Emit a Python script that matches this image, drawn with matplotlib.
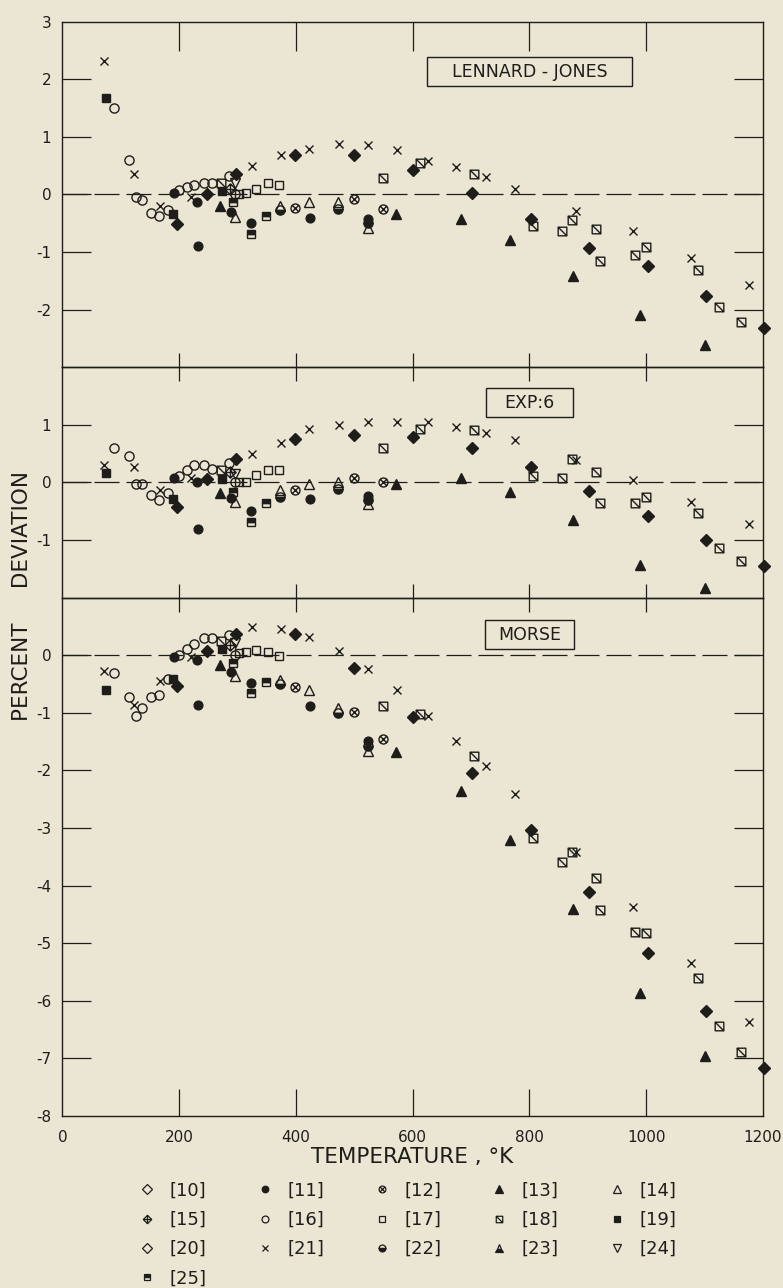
import numpy as np
import matplotlib
matplotlib.use('Agg')
import matplotlib.pyplot as plt
from matplotlib.path import Path
from matplotlib.lines import Line2D
from matplotlib.patches import Rectangle

plt.rcParams['font.family'] = ['DejaVu Sans']
plt.rcParams['axes.unicode_minus'] = False

#####################################################################################################
# temperature (K) and percent deviation for each source, per potential
t11 = [192, 230, 233, 289, 323, 424, 523]
lj11 = [0.02, -0.13, -0.90, -0.31, -0.50, -0.41, -0.42]
exp11 = [0.07, 0.00, -0.81, -0.28, -0.49, -0.29, -0.23]
mor11 = [-0.04, -0.08, -0.86, -0.29, -0.48, -0.89, -1.49]

t12 = [399, 499, 550]
lj12 = [-0.24, -0.08, -0.25]
exp12 = [-0.13, 0.08, 0.00]
mor12 = [-0.56, -0.98, -1.45]

t13 = [270, 572, 682, 766, 875, 989, 1101]
lj13 = [-0.21, -0.34, -0.42, -0.80, -1.41, -2.10, -2.61]
exp13 = [-0.19, -0.03, 0.07, -0.16, -0.65, -1.44, -1.83]
mor13 = [-0.17, -1.68, -2.36, -3.20, -4.40, -5.87, -6.95]

t14 = [296, 372, 423, 472, 523]
lj14 = [-0.40, -0.21, -0.13, -0.13, -0.58]
exp14 = [-0.34, -0.13, -0.03, 0.00, -0.37]
mor14 = [-0.36, -0.43, -0.60, -0.91, -1.66]

t15 = [287]
lj15 = [0.10]
exp15 = [0.18]
mor15 = [0.18]

t16 = [88, 115, 126, 136, 152, 166, 181, 199, 213, 226, 242, 256, 285, 296]
lj16 = [1.50, 0.59, -0.05, -0.10, -0.32, -0.38, -0.27, 0.07, 0.12, 0.16, 0.19, 0.20, 0.32, 0.01]
exp16 = [0.60, 0.46, -0.02, -0.02, -0.22, -0.31, -0.19, 0.11, 0.21, 0.31, 0.30, 0.24, 0.33, 0.01]
mor16 = [-0.31, -0.72, -1.06, -0.91, -0.73, -0.69, -0.42, 0.00, 0.10, 0.19, 0.29, 0.30, 0.35, 0.00]

t17 = [303, 314, 332, 352, 371]
lj17 = [0.00, 0.03, 0.10, 0.20, 0.17]
exp17 = [0.00, 0.01, 0.12, 0.22, 0.22]
mor17 = [0.03, 0.05, 0.09, 0.06, -0.02]

t18 = [271, 550, 613, 705, 806, 856, 872, 914, 920, 980, 1000, 1088, 1125, 1163]
lj18 = [0.20, 0.28, 0.54, 0.36, -0.55, -0.64, -0.45, -0.61, -1.15, -1.06, -0.92, -1.31, -1.95, -2.22]
exp18 = [0.21, 0.59, 0.92, 0.91, 0.11, 0.08, 0.40, 0.18, -0.36, -0.36, -0.25, -0.54, -1.14, -1.36]
mor18 = [0.25, -0.89, -1.02, -1.75, -3.17, -3.59, -3.41, -3.87, -4.43, -4.80, -4.83, -5.61, -6.44, -6.89]

t19 = [75, 190, 273]
lj19 = [1.68, -0.35, 0.05]
exp19 = [0.16, -0.29, 0.05]
mor19 = [-0.61, -0.41, 0.11]

t20 = [197, 248, 298, 399, 500, 600, 702, 802, 902, 1003, 1103, 1202]
lj20 = [-0.52, 0.00, 0.36, 0.68, 0.68, 0.42, 0.02, -0.42, -0.94, -1.25, -1.77, -2.32]
exp20 = [-0.42, 0.05, 0.41, 0.76, 0.83, 0.79, 0.59, 0.27, -0.15, -0.58, -1.00, -1.45]
mor20 = [-0.54, 0.07, 0.36, 0.36, -0.23, -1.07, -2.04, -3.03, -4.11, -5.17, -6.18, -7.16]

t21 = [72, 122, 168, 220, 325, 374, 423, 474, 524, 574, 626, 674, 725, 776, 880, 977, 1077, 1176]
lj21 = [2.32, 0.36, -0.21, -0.05, 0.50, 0.68, 0.78, 0.88, 0.85, 0.77, 0.58, 0.47, 0.30, 0.10,
        -0.29, -0.63, -1.10, -1.58]
exp21 = [0.31, 0.27, -0.13, 0.07, 0.50, 0.69, 0.92, 0.99, 1.05, 1.04, 1.05, 0.96, 0.85, 0.73,
         0.39, 0.04, -0.34, -0.73]
mor21 = [-0.28, -0.87, -0.45, -0.03, 0.49, 0.45, 0.32, 0.08, -0.24, -0.61, -1.06, -1.49, -1.93,
         -2.41, -3.41, -4.37, -5.35, -6.37]

t22 = [372, 472, 523]
lj22 = [-0.28, -0.25, -0.50]
exp22 = [-0.26, -0.12, -0.31]
mor22 = [-0.50, -1.01, -1.57]

t24 = [296]
lj24 = [0.20]
exp24 = [0.15]
mor24 = [0.22]

t25 = [292, 323, 349]
lj25 = [-0.13, -0.68, -0.37]
exp25 = [-0.17, -0.68, -0.36]
mor25 = [-0.13, -0.66, -0.46]

panel_names = ['LENNARD - JONES', 'EXP:6', 'MORSE']
ref_labels = ['[10]', '[11]', '[12]', '[13]', '[14]', '[15]', '[16]', '[17]',
              '[18]', '[19]', '[20]', '[21]', '[22]', '[23]', '[24]', '[25]']
temp_ticks = [0, 200, 400, 600, 800, 1000, 1200]

INK = '#1e1d1a'
PAPER = '#ebe6d4'
W_PX, H_PX = 783, 1288

#####################################################################################################
# odd symbols of the original
circ_x = Path.make_compound_path(
    Path.unit_circle(),
    Path([[-0.72, -0.72], [0.72, 0.72]], [Path.MOVETO, Path.LINETO]),
    Path([[-0.72, 0.72], [0.72, -0.72]], [Path.MOVETO, Path.LINETO]))
diam_plus = Path([[0, 1], [1, 0], [0, -1], [-1, 0], [0, 1],
                  [0, 1], [0, -1], [-1, 0], [1, 0]],
                 [Path.MOVETO, Path.LINETO, Path.LINETO, Path.LINETO, Path.CLOSEPOLY,
                  Path.MOVETO, Path.LINETO, Path.MOVETO, Path.LINETO])
sq_slash = Path([[-1, -1], [1, -1], [1, 1], [-1, 1], [-1, -1],
                 [-1, 1], [1, -1]],
                [Path.MOVETO, Path.LINETO, Path.LINETO, Path.LINETO, Path.CLOSEPOLY,
                 Path.MOVETO, Path.LINETO])

style = {
    '[10]': dict(marker='D', mfc='none', ms=6.2),
    '[11]': dict(marker='o', mfc=INK, ms=6.3),
    '[12]': dict(marker=circ_x, mfc='none', ms=6.5),
    '[13]': dict(marker='^', mfc=INK, ms=6.8),
    '[14]': dict(marker='^', mfc='none', ms=6.8),
    '[15]': dict(marker=diam_plus, mfc='none', ms=8),
    '[16]': dict(marker='o', mfc='none', ms=6.6),
    '[17]': dict(marker='s', mfc='none', ms=6.2),
    '[18]': dict(marker=sq_slash, mfc='none', ms=6.2),
    '[19]': dict(marker='s', mfc=INK, ms=6.2),
    '[20]': dict(marker='D', mfc=INK, ms=6.2),
    '[21]': dict(marker='x', mfc=INK, ms=5.6),
    '[22]': dict(marker='o', mfc=INK, fillstyle='bottom', ms=6.6),
    '[23]': dict(marker='^', mfc=INK, fillstyle='bottom', ms=6.8),
    '[24]': dict(marker='v', mfc='none', ms=6.8),
    '[25]': dict(marker='s', mfc=INK, fillstyle='top', ms=6.2),
}

series = {
    '[11]': (t11, [lj11, exp11, mor11]),
    '[12]': (t12, [lj12, exp12, mor12]),
    '[13]': (t13, [lj13, exp13, mor13]),
    '[14]': (t14, [lj14, exp14, mor14]),
    '[15]': (t15, [lj15, exp15, mor15]),
    '[16]': (t16, [lj16, exp16, mor16]),
    '[17]': (t17, [lj17, exp17, mor17]),
    '[18]': (t18, [lj18, exp18, mor18]),
    '[19]': (t19, [lj19, exp19, mor19]),
    '[20]': (t20, [lj20, exp20, mor20]),
    '[21]': (t21, [lj21, exp21, mor21]),
    '[22]': (t22, [lj22, exp22, mor22]),
    '[24]': (t24, [lj24, exp24, mor24]),
    '[25]': (t25, [lj25, exp25, mor25]),
}

#####################################################################################################
fig = plt.figure(figsize=(7.83, 12.88), dpi=100, facecolor=PAPER)
gs = fig.add_gridspec(3, 1, height_ratios=[6, 4, 9], hspace=0,
                      left=0.0796, right=0.9745, top=0.9833, bottom=0.1335)
axes = [fig.add_subplot(gs[i]) for i in range(3)]

ylims = [(-3, 3), (-2, 2), (-8, 1)]
yticks = [[-2, -1, 0, 1, 2, 3], [-1, 0, 1], list(range(-8, 1))]
# label boxes: x0, x1 (K), y0, y1 (percent)
boxes = [(625, 976, 1.88, 2.38), (726, 875, 1.13, 1.63), (724, 876, 0.10, 0.61)]
inner_t = temp_ticks[1:-1]

for i, ax in enumerate(axes):
    ax.set_facecolor('none')
    ax.set_xlim(0, 1200)
    ax.set_ylim(*ylims[i])
    ax.set_yticks(yticks[i])
    ax.set_xticks(temp_ticks)
    for s in ax.spines.values():
        s.set_linewidth(1.0)
        s.set_color(INK)
    ax.tick_params(axis='both', length=0, labelsize=11, labelcolor=INK)
    ax.tick_params(axis='y', pad=8)
    ax.tick_params(axis='x', pad=10, labelbottom=(i == 2))
    ax.axhline(0, color=INK, lw=0.9, dashes=(20, 5.6), zorder=1)

    # long tick strokes of the original, drawn as lines
    pos = ax.get_position()
    ax_w = pos.width * W_PX
    ax_h = pos.height * H_PX
    ytr = ax.get_yaxis_transform()
    xtr = ax.get_xaxis_transform()
    yt = [v for v in yticks[i] if ylims[i][0] < v < ylims[i][1]]
    yl = 29 / ax_w
    ax.hlines(yt, 0, yl, transform=ytr, color=INK, lw=0.9, clip_on=False)
    ax.hlines(yt, 1 - yl, 1, transform=ytr, color=INK, lw=0.9, clip_on=False)
    if i == 0:
        ax.vlines(inner_t, 1 - 29 / ax_h, 1, transform=xtr, color=INK, lw=0.9, clip_on=False)
    if i == 1:
        half = 14 / ax_h
        ax.vlines(inner_t, 1 - half, 1 + half, transform=xtr, color=INK, lw=0.9, clip_on=False)
        ax.vlines(inner_t, -half, half, transform=xtr, color=INK, lw=0.9, clip_on=False)
    if i == 2:
        ax.vlines(inner_t, 0, 27 / ax_h, transform=xtr, color=INK, lw=0.9, clip_on=False)

    for ref, (t, ys) in series.items():
        st = style[ref]
        ax.plot(t, ys[i], ls='none', mec=INK, mew=1.0, color=INK, clip_on=False, zorder=3, **st)

    x0, x1, y0, y1 = boxes[i]
    ax.add_patch(Rectangle((x0, y0), x1 - x0, y1 - y0, fc='none', ec=INK, lw=1.0, zorder=2))
    ax.text((x0 + x1) / 2, (y0 + y1) / 2, panel_names[i], ha='center', va='center',
            fontsize=12.5, color=INK)
    ax.set_xlim(0, 1200)
    ax.set_ylim(*ylims[i])

fig.text(0.028, 0.5373, 'PERCENT     DEVIATION', rotation=90, ha='center', va='center',
         fontsize=15.5, color=INK)
fig.text(0.526, 0.1017, 'TEMPERATURE , °K', ha='center', va='center', fontsize=15.5, color=INK)

# legend, filled row by row like the original
handles = []
for ref in ref_labels:
    st = dict(style[ref])
    st['ms'] = st['ms'] * 0.75
    if ref == '[20]':
        st['mfc'] = 'none'
    handles.append(Line2D([], [], ls='none', mec=INK, mew=0.9, color=INK, **st))
order = []
for c in range(5):
    for r in range(4):
        k = r * 5 + c
        if k < len(ref_labels):
            order.append(k)
fig.legend([handles[k] for k in order], [ref_labels[k] for k in order], ncol=5,
           loc='upper left', bbox_to_anchor=(0.179, 0.0825), frameon=False, fontsize=13,
           handlelength=0.8, handletextpad=0.85, columnspacing=2.8, labelspacing=0.62,
           borderpad=0, borderaxespad=0, labelcolor=INK)

fig.savefig('out.png', dpi=100, facecolor=PAPER)
